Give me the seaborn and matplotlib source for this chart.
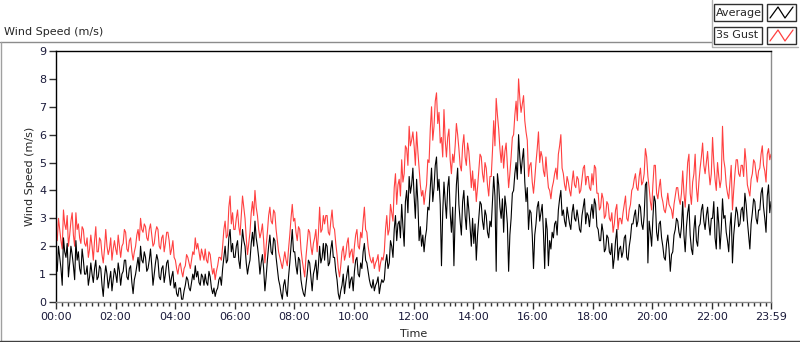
import seaborn as sns
import pandas as pd
import numpy as np
import matplotlib.pyplot as plt
from matplotlib.lines import Line2D
from matplotlib.patches import Rectangle

# wind speed, one value every 2.5 minutes, one row per hour (m/s)
avg = [
    1.5, 1.1, 2.0, 1.6, 1.2, 0.6, 2.3, 1.8, 1.6, 2.1, 0.9, 1.4, 2.0, 1.7, 1.3, 0.8, 2.2, 1.5, 1.8, 1.2, 1.0, 1.9, 1.5, 1.0,
    1.0, 1.3, 0.6, 0.9, 1.4, 1.0, 0.7, 1.2, 1.5, 0.8, 0.9, 1.3, 1.2, 0.6, 0.2, 0.9, 1.3, 1.0, 0.5, 0.8, 1.1, 0.4, 0.8, 1.2,
    1.0, 0.7, 1.4, 1.1, 0.6, 1.0, 1.1, 1.5, 1.5, 0.9, 0.8, 1.2, 1.3, 0.7, 0.3, 0.8, 1.0, 1.3, 1.6, 1.1, 2.0, 1.5, 1.4, 1.8,
    1.6, 1.1, 1.2, 1.5, 1.9, 1.3, 0.6, 1.0, 1.4, 1.7, 1.5, 0.9, 0.8, 1.2, 1.3, 0.7, 1.0, 1.4, 1.5, 1.0, 0.6, 0.9, 1.1, 0.5,
    0.7, 0.3, 0.2, 0.5, 0.5, 0.1, 0.1, 0.4, 0.6, 0.9, 0.8, 0.5, 0.4, 0.7, 1.0, 0.8, 1.3, 0.9, 1.1, 0.7, 0.6, 1.0, 0.9, 0.6,
    1.0, 0.7, 0.6, 1.1, 0.9, 0.5, 0.3, 0.5, 0.2, 0.4, 0.5, 0.8, 0.9, 0.6, 1.2, 1.6, 2.0, 1.4, 1.5, 2.3, 2.6, 1.8, 2.1, 1.6,
    1.6, 2.0, 2.2, 1.5, 1.2, 1.9, 2.6, 2.2, 2.0, 1.4, 1.0, 1.3, 1.5, 2.1, 2.5, 2.0, 2.9, 2.3, 2.0, 1.6, 1.0, 1.4, 1.7, 1.2,
    0.4, 0.9, 1.5, 2.0, 2.4, 1.8, 1.7, 2.3, 2.2, 1.6, 1.2, 0.8, 0.6, 0.3, 0.1, 0.6, 0.8, 0.4, 0.2, 0.9, 1.4, 2.0, 2.6, 1.8,
    1.8, 1.3, 1.0, 1.6, 1.5, 0.8, 0.5, 0.3, 0.2, 0.6, 1.0, 1.5, 1.4, 0.9, 0.4, 1.0, 1.2, 1.5, 0.8, 1.3, 2.0, 1.4, 1.6, 2.1,
    1.5, 2.1, 2.0, 1.3, 1.4, 1.9, 2.2, 1.6, 1.6, 1.1, 0.8, 0.3, 0.1, 0.4, 0.6, 1.0, 0.3, 0.7, 1.0, 1.3, 0.5, 0.8, 0.9, 0.4,
    1.1, 1.5, 1.6, 1.0, 0.9, 1.4, 1.2, 1.8, 2.1, 1.5, 1.4, 1.1, 0.8, 0.6, 0.5, 0.8, 0.4, 0.6, 0.7, 0.9, 0.3, 0.6, 0.8, 0.7,
    0.8, 1.4, 1.7, 1.2, 1.4, 2.2, 2.0, 1.6, 2.6, 3.1, 2.2, 2.8, 2.9, 2.3, 3.5, 2.7, 2.0, 3.6, 4.0, 3.2, 4.5, 3.9, 4.2, 4.8,
    3.8, 3.0, 4.4, 3.6, 2.2, 2.7, 2.0, 2.4, 1.8, 2.3, 2.6, 3.4, 3.3, 4.1, 4.8, 3.6, 4.1, 4.9, 5.2, 4.0, 4.4, 3.5, 1.3, 3.2,
    4.3, 3.6, 3.0, 4.1, 4.5, 3.2, 2.5, 3.4, 1.3, 3.1, 4.2, 4.8, 3.5, 2.9, 2.4, 3.6, 4.0, 3.1, 2.6, 3.8, 3.3, 2.7, 2.0, 3.0,
    2.1, 2.8, 1.5, 2.4, 3.0, 3.6, 3.5, 2.9, 2.6, 3.3, 3.1, 2.5, 2.3, 2.9, 2.7, 3.6, 4.5, 3.8, 1.1, 4.6, 4.2, 3.4, 3.0, 3.7,
    2.5, 3.8, 3.4, 2.8, 1.1, 2.4, 3.0, 3.9, 4.0, 4.6, 5.0, 4.4, 6.0, 5.2, 4.6, 5.1, 5.5, 4.3, 3.6, 4.1, 2.6, 3.3, 3.2, 2.4,
    1.2, 2.4, 2.8, 3.4, 3.6, 2.9, 3.2, 3.5, 2.5, 1.2, 3.0, 2.6, 1.3, 2.2, 1.9, 2.5, 2.3, 2.8, 2.9, 2.4, 3.3, 3.7, 4.0, 3.1,
    3.3, 2.9, 2.7, 3.4, 3.1, 2.8, 2.6, 3.2, 3.5, 3.0, 2.9, 3.3, 3.0, 2.6, 2.5, 3.1, 3.4, 3.7, 2.8, 3.2, 3.1, 2.7, 3.2, 3.5,
    3.0, 3.7, 3.5, 2.7, 2.6, 2.2, 2.2, 2.8, 2.5, 1.8, 1.9, 2.4, 2.3, 1.8, 1.7, 2.1, 1.2, 1.6, 2.2, 2.6, 1.5, 1.9, 2.0, 1.6,
    1.8, 2.3, 2.4, 1.6, 1.5, 2.0, 2.3, 2.8, 2.8, 3.1, 3.3, 2.7, 2.9, 3.5, 3.4, 2.8, 2.6, 3.1, 4.2, 4.3, 1.4, 2.9, 2.5, 2.0,
    3.0, 3.8, 3.6, 2.5, 2.2, 2.8, 2.9, 2.3, 2.0, 1.6, 1.5, 2.1, 2.4, 1.9, 1.1, 1.7, 1.8, 2.4, 2.6, 3.0, 2.9, 2.5, 2.3, 2.7,
    3.6, 2.4, 1.8, 2.7, 3.2, 3.5, 2.4, 1.9, 1.7, 2.6, 3.1, 2.2, 2.0, 2.7, 2.8, 3.3, 3.5, 2.9, 2.6, 3.1, 3.4, 2.8, 2.4, 3.0,
    3.0, 3.6, 2.3, 1.9, 3.4, 2.8, 1.9, 2.6, 3.7, 3.0, 3.1, 2.5, 2.2, 1.8, 2.7, 3.2, 1.4, 2.4, 2.9, 3.4, 3.2, 2.7, 2.8, 3.3,
    3.4, 2.9, 3.9, 3.5, 2.9, 2.4, 1.9, 2.8, 3.2, 3.7, 3.6, 3.0, 2.8, 3.3, 3.3, 3.9, 4.1, 3.4, 3.0, 2.5, 3.8, 4.2, 3.2, 3.6,
]
gust = [
    2.4, 2.2, 3.0, 2.6, 2.2, 1.9, 3.3, 2.8, 2.6, 3.1, 2.0, 2.4, 2.9, 3.2, 2.4, 2.0, 3.2, 2.6, 2.8, 2.3, 2.1, 2.7, 2.6, 2.1,
    2.0, 2.3, 1.6, 1.9, 2.4, 2.0, 1.5, 2.2, 2.7, 1.8, 1.8, 2.3, 2.2, 1.7, 1.4, 1.9, 2.6, 2.0, 1.7, 1.9, 2.3, 1.5, 1.9, 2.2,
    1.9, 1.7, 2.4, 2.0, 1.6, 2.0, 2.1, 2.6, 2.5, 1.9, 1.8, 2.2, 2.3, 1.8, 1.5, 1.8, 2.0, 2.4, 2.6, 2.2, 3.0, 2.6, 2.5, 2.8,
    2.7, 2.3, 2.2, 2.6, 2.8, 2.4, 2.0, 2.1, 2.5, 2.7, 2.6, 2.0, 1.9, 2.3, 2.4, 1.8, 2.1, 2.5, 2.5, 2.2, 1.7, 1.9, 2.2, 1.6,
    1.5, 1.2, 1.0, 1.3, 1.4, 1.1, 0.9, 1.2, 1.3, 1.7, 1.6, 1.4, 1.2, 1.5, 1.8, 1.7, 2.3, 1.9, 2.1, 1.8, 1.5, 1.9, 1.7, 1.5,
    1.9, 1.5, 1.4, 1.8, 1.7, 1.3, 1.0, 1.2, 0.8, 1.1, 1.3, 1.6, 1.6, 1.5, 2.0, 2.6, 2.9, 2.3, 2.4, 3.4, 3.8, 2.8, 3.2, 2.6,
    2.6, 3.0, 3.3, 2.7, 2.4, 3.1, 3.8, 3.4, 3.0, 2.3, 1.7, 2.1, 2.5, 3.2, 3.6, 3.1, 4.0, 3.4, 3.1, 2.6, 2.3, 2.5, 2.8, 2.2,
    1.4, 2.0, 2.5, 3.1, 3.4, 2.9, 2.8, 3.3, 3.2, 2.6, 2.2, 1.8, 1.6, 1.4, 1.2, 1.5, 1.8, 1.5, 1.3, 1.9, 2.4, 3.0, 3.5, 2.9,
    3.0, 2.5, 2.2, 2.7, 2.6, 1.9, 1.5, 1.2, 0.9, 1.6, 2.1, 2.6, 2.5, 2.0, 1.7, 2.1, 2.3, 2.6, 1.8, 2.4, 3.4, 2.5, 2.6, 3.1,
    2.8, 3.1, 3.1, 2.5, 2.4, 2.9, 3.3, 2.7, 2.6, 2.1, 1.7, 1.2, 0.9, 1.3, 1.8, 2.0, 1.5, 1.7, 2.1, 2.3, 1.6, 1.8, 1.9, 1.4,
    2.0, 2.4, 2.6, 2.0, 1.9, 2.5, 2.3, 2.9, 3.4, 2.6, 2.5, 2.0, 1.7, 1.5, 1.4, 1.6, 1.2, 1.4, 1.5, 1.7, 1.1, 1.4, 1.6, 1.5,
    1.8, 2.6, 3.1, 2.4, 2.6, 3.5, 3.2, 2.9, 4.1, 4.6, 3.5, 4.2, 4.4, 3.8, 5.1, 4.3, 4.6, 5.6, 5.5, 4.9, 6.3, 5.6, 5.8, 6.1,
    5.6, 4.9, 6.1, 5.4, 4.8, 4.2, 3.8, 4.0, 3.5, 3.9, 4.2, 5.1, 5.0, 6.2, 7.0, 5.8, 6.3, 7.2, 7.5, 6.4, 6.8, 5.7, 5.9, 5.2,
    6.9, 5.8, 5.2, 5.9, 6.2, 5.1, 4.6, 5.3, 5.0, 5.6, 6.4, 6.0, 5.5, 4.9, 4.7, 5.6, 6.0, 5.2, 4.9, 5.7, 5.4, 4.8, 4.1, 4.7,
    4.0, 4.4, 3.6, 4.1, 4.7, 5.3, 5.2, 4.6, 4.3, 5.0, 4.8, 4.2, 3.8, 4.5, 4.5, 5.4, 6.5, 5.6, 7.3, 6.7, 6.2, 5.5, 5.0, 5.6,
    4.8, 5.4, 5.7, 4.9, 4.1, 4.6, 5.2, 5.9, 6.0, 6.7, 7.2, 6.5, 8.0, 7.3, 6.8, 7.1, 7.4, 6.5, 6.1, 5.8, 4.5, 4.9, 5.0, 4.3,
    3.9, 4.4, 5.0, 5.5, 6.1, 5.0, 5.4, 5.2, 4.7, 4.5, 5.2, 4.6, 4.1, 4.0, 3.7, 4.1, 4.3, 4.6, 4.8, 4.4, 5.3, 5.6, 6.0, 4.8,
    4.6, 4.2, 4.0, 4.5, 4.3, 4.0, 3.8, 4.3, 4.7, 4.2, 4.1, 4.5, 4.4, 3.9, 4.0, 4.4, 4.8, 4.9, 4.2, 4.5, 4.5, 4.1, 4.0, 4.6,
    4.2, 4.9, 4.8, 3.9, 3.9, 3.3, 3.4, 3.9, 3.7, 3.0, 3.1, 3.6, 3.5, 3.0, 2.9, 3.2, 2.5, 2.8, 3.3, 3.5, 2.6, 3.0, 3.0, 2.8,
    3.2, 3.5, 3.8, 3.0, 2.9, 3.3, 3.5, 4.0, 4.1, 4.4, 4.6, 4.1, 4.0, 4.5, 4.8, 4.2, 4.3, 4.6, 5.5, 5.2, 4.5, 4.1, 3.6, 3.3,
    4.2, 4.9, 4.9, 3.9, 3.7, 4.1, 4.4, 3.8, 3.6, 3.3, 3.2, 3.5, 3.9, 3.5, 3.4, 3.3, 3.0, 3.5, 3.8, 4.1, 4.1, 3.7, 3.5, 3.9,
    4.7, 3.9, 3.4, 4.2, 5.0, 5.3, 3.9, 3.5, 4.3, 4.6, 5.3, 4.1, 3.6, 4.3, 4.8, 5.2, 5.7, 4.9, 4.6, 5.0, 5.4, 4.7, 4.2, 4.6,
    5.9, 5.0, 4.4, 4.0, 5.0, 4.5, 4.1, 4.4, 6.3, 5.1, 4.8, 4.2, 3.9, 3.7, 4.3, 4.9, 3.3, 4.0, 4.6, 5.1, 5.1, 4.6, 4.5, 4.9,
    4.9, 4.5, 5.5, 5.0, 4.2, 4.0, 3.8, 4.4, 4.6, 5.1, 5.0, 4.6, 4.3, 4.7, 4.8, 5.3, 5.6, 4.9, 4.7, 4.3, 5.3, 5.5, 5.1, 5.3,
]
tick_labels = ["00:00", "02:00", "04:00", "06:00", "08:00", "10:00", "12:00",
               "14:00", "16:00", "18:00", "20:00", "22:00", "23:59"]
tick_minutes = [0, 120, 240, 360, 480, 600, 720, 840, 960, 1080, 1200, 1320, 1439]

minutes = np.linspace(0, 1439, len(avg))
df = pd.concat([
    pd.DataFrame({"minute": minutes, "speed": gust, "series": "3s Gust"}),
    pd.DataFrame({"minute": minutes, "speed": avg, "series": "Average"}),
])

sns.set_style("white")
plt.rcParams["font.family"] = ["DejaVu Sans"]

W, H = 800, 342
fig = plt.figure(figsize=(W / 100, H / 100), dpi=100)

def fx(x):
    return x / W

def fy(y):
    return 1 - y / H

ax = fig.add_axes([fx(56), fy(302), fx(771 - 56), (302 - 51) / H])
colors = {"Average": "black", "3s Gust": "#ff4040"}
sns.lineplot(data=df, x="minute", y="speed", hue="series",
             hue_order=["3s Gust", "Average"], palette=colors,
             estimator=None, legend=False, linewidth=0.8, ax=ax)

ax.set_xlim(0, 1439)
ax.set_ylim(0, 9)
ax.set_xticks(tick_minutes)
ax.set_xticklabels(tick_labels)
ax.set_xticks(np.arange(0, 1440, 12), minor=True)
ax.set_yticks(range(10))
ax.tick_params(axis="both", which="major", direction="out", length=5, width=1,
               color="#303030", labelsize=8, labelcolor="#1a1a3a", pad=2,
               bottom=True, left=True)
ax.tick_params(axis="x", which="minor", direction="out", length=3, width=1,
               color="#303030", bottom=True)
ax.set_xlabel("Time", fontsize=8, labelpad=5)
ax.set_ylabel("Wind Speed (m/s)", fontsize=8, labelpad=3)
for side in ["top", "left"]:
    ax.spines[side].set_color("black")
for side in ["bottom", "right"]:
    ax.spines[side].set_color("#8c8c8c")
for s in ax.spines.values():
    s.set_linewidth(1)

# panel title and frame
fig.text(fx(4), fy(32), "Wind Speed (m/s)", fontsize=8, va="center", ha="left")
frame = [((0, 712), (42, 42), "#8c8c8c"), ((0.5, 0.5), (42, 341), "#a0a0a0"),
         ((0, 800), (341, 341), "#404040")]
for xs, ys, c in frame:
    fig.add_artist(Line2D([fx(v) for v in xs], [fy(v) for v in ys], color=c, lw=1))

# legend panel
fig.add_artist(Line2D([fx(712), fx(712), fx(798)], [fy(0), fy(47), fy(47)],
                      color="#b0b0b0", lw=1))
rows = [("Average", "black", 4, 21), ("3s Gust", "#ff4040", 27, 44)]
for name, c, y0, y1 in rows:
    fig.add_artist(Rectangle((fx(714), fy(y1)), fx(762 - 714), (y1 - y0) / H,
                             fill=False, ec="#303030", lw=1))
    fig.text(fx(716), fy((y0 + y1) / 2), name, fontsize=8, va="center", ha="left")
    fig.add_artist(Rectangle((fx(767), fy(y1)), fx(796 - 767), (y1 - y0) / H,
                             fill=False, ec="#303030", lw=1))
    zx = [770, 778, 785, 793]
    zy = [y1 - 3, y0 + 3, y1 - 3, y0 + 3]
    fig.add_artist(Line2D([fx(v) for v in zx], [fy(v) for v in zy], color=c, lw=0.9))

fig.savefig("out.png", dpi=100)
